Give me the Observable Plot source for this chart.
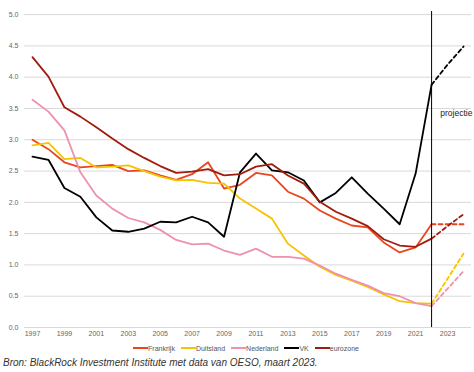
<!DOCTYPE html>
<html>
<head>
<meta charset="utf-8">
<script src="https://cdn.jsdelivr.net/npm/d3@7"></script>
<script src="https://cdn.jsdelivr.net/npm/@observablehq/plot@0.6"></script>
<style>
  html, body { margin: 0; padding: 0; background: #fff; }
  body { width: 474px; height: 372px; overflow: hidden; font-family: "Liberation Sans", Arial, sans-serif; }
  #legend { display: flex; justify-content: center; align-items: center; gap: 6px; height: 12px; margin-top: 0px; padding-left: 18px; font-size: 7px; color: #555; }
  #legend .item { display: flex; align-items: center; }
  #legend .sw { display: inline-block; width: 15px; height: 2px; margin-right: 0px; }
  #caption { font-size: 10px; font-style: italic; color: #333; margin-left: 3px; margin-top: 3px; white-space: nowrap; }
</style>
</head>
<body>
<div id="chart"></div>
<div id="legend"></div>
<div id="caption">Bron: BlackRock Investment Institute met data van OESO, maart 2023.</div>
<script>
const years = d3.range(1997, 2025);
const projectionStart = 2022;
const seriesNames = ["Frankrijk", "Duitsland", "Nederland", "VK", "eurozone"];
const seriesColors = ["#e8461e", "#f5c400", "#ec93ab", "#000000", "#a01c0c"];

const frankrijk = [3.00, 2.85, 2.64, 2.56, 2.58, 2.60, 2.50, 2.51, 2.43, 2.36, 2.45, 2.64, 2.22, 2.28, 2.47, 2.43, 2.17, 2.06, 1.87, 1.74, 1.63, 1.60, 1.36, 1.20, 1.28, 1.65, 1.65, 1.65];
const duitsland = [2.91, 2.95, 2.69, 2.71, 2.56, 2.57, 2.59, 2.50, 2.41, 2.35, 2.36, 2.31, 2.30, 2.06, 1.90, 1.74, 1.34, 1.15, 0.97, 0.84, 0.75, 0.65, 0.53, 0.42, 0.39, 0.38, 0.78, 1.18];
const nederland = [3.64, 3.45, 3.15, 2.48, 2.11, 1.90, 1.75, 1.68, 1.56, 1.40, 1.33, 1.34, 1.23, 1.16, 1.26, 1.13, 1.13, 1.10, 0.99, 0.86, 0.76, 0.67, 0.55, 0.50, 0.39, 0.34, 0.62, 0.90];
const vk = [2.73, 2.68, 2.23, 2.09, 1.76, 1.55, 1.53, 1.58, 1.69, 1.68, 1.77, 1.68, 1.45, 2.48, 2.78, 2.51, 2.48, 2.35, 2.00, 2.15, 2.40, 2.14, 1.90, 1.65, 2.46, 3.88, 4.20, 4.49];
const eurozone = [4.32, 4.01, 3.52, 3.37, 3.20, 3.02, 2.85, 2.71, 2.58, 2.47, 2.49, 2.53, 2.43, 2.45, 2.57, 2.61, 2.43, 2.30, 2.01, 1.85, 1.74, 1.62, 1.41, 1.31, 1.29, 1.42, 1.62, 1.81];

const yTicks = [0, 0.5, 1, 1.5, 2, 2.5, 3, 3.5, 4, 4.5, 5];
const xTicks = d3.range(1997, 2024, 2);
const annotation = [{label: "projectie", year: 2023.55, value: 3.43}];

const allValues = [frankrijk, duitsland, nederland, vk, eurozone];
const rows = [];
seriesNames.forEach((name, i) => {
  years.forEach((yr, j) => rows.push({series: name, year: yr, value: allValues[i][j]}));
});
const actual = rows.filter(d => d.year <= projectionStart);
const projected = rows.filter(d => d.year >= projectionStart);

const chart = Plot.plot({
  width: 474,
  height: 342,
  marginTop: 11,
  marginBottom: 15,
  marginLeft: 24,
  marginRight: 3,
  style: {fontFamily: "Liberation Sans, Arial, sans-serif", fontSize: "7px", color: "#666", background: "#fff"},
  x: {domain: [1996.5, 2024.5], ticks: xTicks, tickFormat: d => String(d), tickSize: 0, tickPadding: 4, label: null},
  y: {domain: [0, 5.05], ticks: yTicks, tickFormat: d3.format(".1f"), tickSize: 0, tickPadding: 6, label: null, grid: false},
  color: {domain: seriesNames, range: seriesColors},
  marks: [
    Plot.ruleY(yTicks, {stroke: "#d9d9d9", strokeWidth: 1}),
    Plot.line(actual, {x: "year", y: "value", z: "series", stroke: "series", strokeWidth: 1.8, curve: "linear"}),
    Plot.line(projected, {x: "year", y: "value", z: "series", stroke: "series", strokeWidth: 1.8, strokeDasharray: "4,3"}),
    Plot.ruleX([projectionStart], {stroke: "#000", strokeWidth: 1}),
    Plot.text(annotation, {x: "year", y: "value", text: "label", fill: "#222", fontSize: 8.5})
  ]
});
document.getElementById("chart").appendChild(chart);

const legend = document.getElementById("legend");
seriesNames.forEach((name, i) => {
  const item = document.createElement("span");
  item.className = "item";
  const sw = document.createElement("span");
  sw.className = "sw";
  sw.style.background = seriesColors[i];
  item.appendChild(sw);
  item.appendChild(document.createTextNode(name));
  legend.appendChild(item);
});
</script>
</body>
</html>
